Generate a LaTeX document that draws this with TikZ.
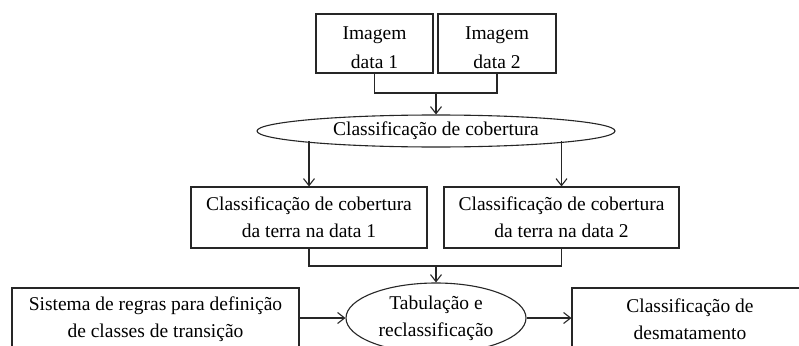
\documentclass[tikz,border=0pt]{standalone}
\usepackage{fontspec}
\setmainfont{Liberation Serif}
\usetikzlibrary{shapes.geometric,arrows.meta,backgrounds}
\begin{document}
\begin{tikzpicture}[x=1pt,y=-1pt,
  every node/.style={font=\fontsize{19.5}{27}\selectfont, align=center, inner sep=0pt},
  box/.style={draw=black!85, rectangle, fill=white, line width=1.1pt},
  topbox/.style={box, font=\fontsize{19.5}{29}\selectfont},
  oval/.style={draw=black!85, ellipse, fill=white, line width=1.1pt},
  line/.style={draw=black!85, line width=1.1pt},
  arr/.style={line, -{Straight Barb[length=7pt,width=11pt,line width=1.1pt]}}]
\fill[white] (0,0) rectangle (799,345);
\clip (0,0) rectangle (799,345);
% top boxes
\node[topbox, minimum width=117pt, minimum height=59pt] (b1) at (374.5,43.5) {\rule{0pt}{21pt}Imagem\\data 1};
\node[topbox, minimum width=118pt, minimum height=59pt] (b2) at (497,43.5) {\rule{0pt}{21pt}Imagem\\data 2};
\coordinate (j1) at (436,93);
% ellipse 1
\node[oval, minimum width=358pt, minimum height=32pt] (e1) at (436,131) {Classificação de cobertura};
% middle boxes
\node[box, minimum width=236pt, minimum height=61pt] (mL) at (309,217.5) {Classificação de cobertura\\da terra na data 1};
\node[box, minimum width=235pt, minimum height=61pt] (mR) at (561.5,217.5) {Classificação de cobertura\\da terra na data 2};
\coordinate (j2) at (436,266);
% bottom row
\node[oval, minimum width=180pt, minimum height=70pt] (e2) at (436,318) {Tabulação e\\reclassificação};
\node[box, minimum width=287pt, minimum height=62pt] (lb) at (155.5,319) {Sistema de regras para definição\\de classes de transição};
\node[box, minimum width=236pt, minimum height=62pt] (rb) at (690,319) {Classificação de\\desmatamento};
% connectors
\draw[line] (b1.south) |- (j1) -| (b2.south);
\draw[arr] (j1) -- (e1.north);
\begin{scope}[on background layer]
\draw[line] (mL.north |- e1.center) -- ([yshift=-10pt]mL.north |- e1.center);
\draw[line] (mR.north |- e1.center) -- ([yshift=-10pt]mR.north |- e1.center);
\end{scope}
\draw[arr] ([yshift=-10pt]mL.north |- e1.center) -- (mL.north);
\draw[arr] ([yshift=-10pt]mR.north |- e1.center) -- (mR.north);
\draw[line] (mL.south) |- (j2) -| (mR.south);
\draw[arr] (j2) -- (e2.north);
\draw[arr] (e2.west -| lb.east) -- (e2.west);
\draw[arr] (e2.east) -- (e2.east -| rb.west);
\end{tikzpicture}
\end{document}
